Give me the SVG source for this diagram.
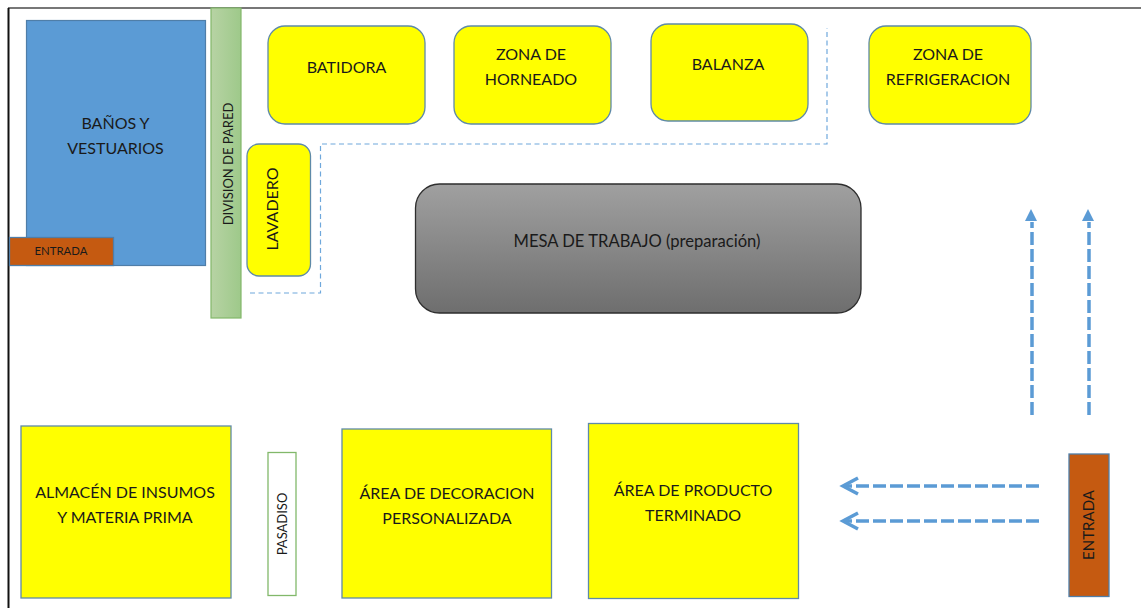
<svg xmlns="http://www.w3.org/2000/svg" width="1141" height="608" viewBox="0 0 1141 608">
<style>
text{font-family:Lato,"Liberation Sans",sans-serif;font-size:16px;fill:#1a1a1a;text-anchor:middle}
.y{fill:#ffff00;stroke:#5f8aa8;stroke-width:1.3}
.o{fill:#c55a11;stroke:#4f7ea8;stroke-width:1.3}
.thin{fill:none;stroke:#6fa8dc;stroke-width:1.2;stroke-dasharray:5 3.5}
.flow{fill:none;stroke:#5b9bd5;stroke-width:3.5;stroke-dasharray:13 4}
.ah{fill:none;stroke:#5b9bd5;stroke-width:3.5}
</style>
<defs>
<linearGradient id="gg" x1="0" x2="0" y1="0" y2="1"><stop offset="0" stop-color="#a0a0a0"/><stop offset="1" stop-color="#6e6e6e"/></linearGradient>
<linearGradient id="gr" x1="0" x2="1" y1="0" y2="0"><stop offset="0" stop-color="#b7d3a4"/><stop offset="1" stop-color="#9ec98a"/></linearGradient>
</defs>
<g id="frame"><path d="M8 8H1141" fill="none" stroke="#4a4a4a" stroke-width="1.500"/><path d="M8.500 8V608" fill="none" stroke="#111" stroke-width="2"/></g>
<g id="banos"><rect x="26.500" y="20.500" width="179" height="245" fill="#5b9bd5" stroke="#4f7ea8" stroke-width="1.200"/><text x="115.500" y="129">BAÑOS Y</text><text x="115.500" y="154">VESTUARIOS</text></g>
<g id="entrada-banos"><rect x="9.500" y="237.500" width="104" height="28" class="o"/><text x="61" y="255" style="font-size:11.400px">ENTRADA</text></g>
<g id="division"><rect x="211" y="8" width="30" height="310" fill="url(#gr)" stroke="#82b86a" stroke-width="1.200"/><text transform="translate(233 164) rotate(-90)" style="font-size:13px">DIVISION DE PARED</text></g>
<g id="batidora"><rect x="268" y="26" width="157" height="98" rx="17" class="y"/><text x="346.500" y="73">BATIDORA</text></g>
<g id="horneado"><rect x="454" y="26" width="157" height="98" rx="17" class="y"/><text x="531" y="60">ZONA DE</text><text x="531" y="85">HORNEADO</text></g>
<g id="balanza"><rect x="651" y="24" width="157" height="97" rx="17" class="y"/><text x="728" y="70">BALANZA</text></g>
<g id="refrigeracion"><rect x="869" y="26" width="162" height="98" rx="17" class="y"/><text x="948" y="60">ZONA DE</text><text x="948" y="85">REFRIGERACION</text></g>
<g id="lavadero"><rect x="247" y="144" width="63.500" height="132" rx="12" class="y"/><text transform="translate(278 209) rotate(-90)">LAVADERO</text></g>
<g id="mesa"><rect x="415.500" y="184" width="445.500" height="129" rx="24" fill="url(#gg)" stroke="#2e2e2e" stroke-width="1.300"/><text x="637" y="247" style="font-size:16.600px">MESA DE TRABAJO (preparación)</text></g>
<g id="almacen"><rect x="21" y="426" width="210" height="172" class="y"/><text x="125" y="498">ALMACÉN DE INSUMOS</text><text x="125" y="523">Y MATERIA PRIMA</text></g>
<g id="pasadiso"><rect x="268" y="452.500" width="28" height="143" fill="#fff" stroke="#82b86a" stroke-width="1.300"/><text transform="translate(287 524) rotate(-90)" style="font-size:13px">PASADISO</text></g>
<g id="decoracion"><rect x="342" y="429" width="209.500" height="169" class="y"/><text x="447" y="499">ÁREA DE DECORACION</text><text x="447" y="524">PERSONALIZADA</text></g>
<g id="terminado"><rect x="588.500" y="423.500" width="210" height="175" class="y"/><text x="693" y="496">ÁREA DE PRODUCTO</text><text x="693" y="521">TERMINADO</text></g>
<g id="entrada"><rect x="1069" y="454" width="40" height="142.500" class="o"/><text transform="translate(1094 525) rotate(-90)" style="font-size:15px">ENTRADA</text></g>
<g id="connectors">
<path class="thin" d="M250 293H320.500V144H827V28"/>
<path class="flow" d="M1032 415V222"/><path class="flow" d="M1089 415V222"/>
<path d="M1031 209l6 12h-12Z" fill="#5b9bd5"/><path d="M1088 209l6 12h-12Z" fill="#5b9bd5"/>
<path class="flow" d="M1039 486H846"/><path class="flow" d="M1039 521H846"/>
<path class="ah" d="M858 478l-15 8l15 8M858 513l-15 8l15 8"/>
</g>
</svg>
